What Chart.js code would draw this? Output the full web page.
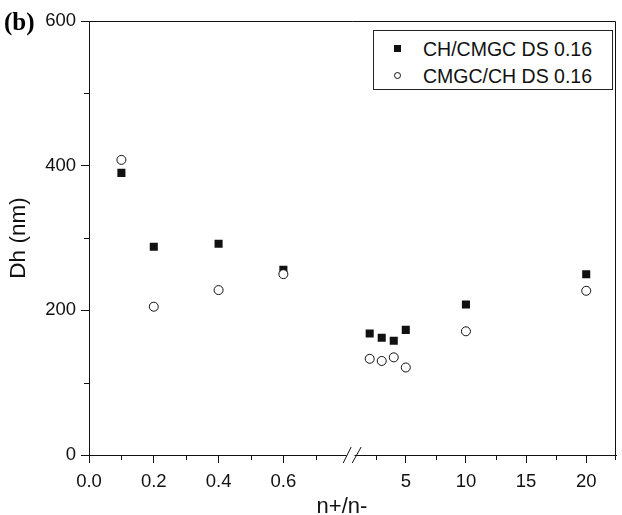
<!DOCTYPE html>
<html>
<head>
<meta charset="utf-8">
<script src="https://cdn.jsdelivr.net/npm/chart.js@4.4.1/dist/chart.umd.min.js"></script>
<style>
html,body{margin:0;padding:0;background:#fff;}
#wrap{position:relative;width:622px;height:515px;overflow:hidden;background:#fff;}
#c{position:absolute;left:0;top:0;}
#legend{position:absolute;left:373px;top:30px;width:240px;height:60px;box-sizing:border-box;border:1px solid #222;background:#fff;font-family:"Liberation Sans",Arial,sans-serif;font-size:19.5px;color:#111;}
#legend .row{position:absolute;left:0;height:24px;line-height:24px;white-space:nowrap;}
#legend .txt{position:absolute;left:49px;top:0;}
#legend .sq{position:absolute;left:20px;top:8px;width:7px;height:7px;background:#111;}
#legend .ci{position:absolute;left:20px;top:8px;width:7px;height:7px;box-sizing:border-box;border:1px solid #111;border-radius:50%;background:#fff;}
</style>
</head>
<body>
<div id="wrap">
<canvas id="c" width="622" height="515"></canvas>
<div id="legend"></div>
</div>
<script>
// ---- data ----
const xLeft = [0.1, 0.2, 0.4, 0.6];
const xRight = [2, 3, 4, 5, 10, 20];
const chCmgcLeft = [390, 288, 292, 256];
const chCmgcRight = [168, 162, 158, 173, 208, 250];
const cmgcChLeft = [408, 205, 228, 250];
const cmgcChRight = [133, 130, 135, 121, 171, 227];

const seriesNames = ['CH/CMGC DS 0.16', 'CMGC/CH DS 0.16'];

// ---- ticks ----
const yTicks = [0, 100, 200, 300, 400, 500, 600];
const yLabeled = [0, 200, 400, 600];
const xLeftTicks = [0, 0.1, 0.2, 0.3, 0.4, 0.5, 0.6, 0.7];
const xLeftLabeled = [0, 0.2, 0.4, 0.6];
const xRightTicks = [2.5, 5, 7.5, 10, 12.5, 15, 17.5, 20, 22.5];
const xRightLabeled = [5, 10, 15, 20];

const xTitle = 'n+/n-';
const yTitle = 'Dh (nm)';
const panelLabel = '(b)';

const has = (arr, v) => arr.some(a => Math.abs(a - v) < 1e-9);
const pts = (xs, ys) => xs.map((x, i) => ({x: x, y: ys[i]}));

const INK = '#111';
const FONT = '"Liberation Sans", Arial, sans-serif';

// legend (HTML, real text)
(function(){
  const lg = document.getElementById('legend');
  const rows = [{cls:'sq', name: seriesNames[0], top: 6}, {cls:'ci', name: seriesNames[1], top: 33}];
  rows.forEach(r => {
    const d = document.createElement('div');
    d.className = 'row';
    d.style.top = r.top + 'px';
    d.style.width = '236px';
    const m = document.createElement('span'); m.className = r.cls;
    const t = document.createElement('span'); t.className = 'txt'; t.textContent = r.name;
    d.appendChild(m); d.appendChild(t);
    lg.appendChild(d);
  });
})();

const circleStyle = {pointStyle:'circle', pointRadius:4.5, pointBackgroundColor:'#fff', pointBorderColor:INK, pointBorderWidth:1, showLine:false};
const squareStyle = {pointStyle:'rect', pointRadius:5.7, pointBackgroundColor:INK, pointBorderColor:INK, pointBorderWidth:0, showLine:false};

const decorPlugin = {
  id: 'decor',
  afterDraw(chart) {
    const ctx = chart.ctx;
    const ca = chart.chartArea;
    ctx.save();
    ctx.strokeStyle = INK;
    ctx.lineWidth = 1;
    // frame: top and right lines
    const top = Math.round(ca.top) + 0.5, right = Math.round(ca.right) - 0.5;
    ctx.beginPath();
    ctx.moveTo(ca.left, top);
    ctx.lineTo(right, top);
    ctx.lineTo(right, ca.bottom);
    ctx.stroke();
    // minor ticks
    const y = chart.scales.y;
    yTicks.filter(v => !has(yLabeled, v)).forEach(v => {
      const p = Math.round(y.getPixelForValue(v)) + 0.5;
      ctx.beginPath(); ctx.moveTo(ca.left - 5, p); ctx.lineTo(ca.left, p); ctx.stroke();
    });
    const xl = chart.scales.xL, xr = chart.scales.xR;
    xLeftTicks.filter(v => !has(xLeftLabeled, v)).forEach(v => {
      const p = Math.round(xl.getPixelForValue(v)) + 0.5;
      ctx.beginPath(); ctx.moveTo(p, ca.bottom); ctx.lineTo(p, ca.bottom + 5); ctx.stroke();
    });
    xRightTicks.filter(v => !has(xRightLabeled, v)).forEach(v => {
      const p = Math.min(Math.round(xr.getPixelForValue(v)) + 0.5, right);
      ctx.beginPath(); ctx.moveTo(p, ca.bottom); ctx.lineTo(p, ca.bottom + 5); ctx.stroke();
    });
    // axis break marks
    const bx = xl.right;
    const by = ca.bottom;
    ctx.fillStyle = '#fff';
    ctx.beginPath();
    ctx.moveTo(bx - 3, by + 3); ctx.lineTo(bx + 5, by + 3); ctx.lineTo(bx + 8, by - 3); ctx.lineTo(bx, by - 3);
    ctx.closePath(); ctx.fill();
    ctx.beginPath();
    ctx.moveTo(bx - 5, by + 8); ctx.lineTo(bx + 3, by - 8);
    ctx.moveTo(bx + 4, by + 8); ctx.lineTo(bx + 13, by - 8);
    ctx.stroke();
    // titles
    ctx.fillStyle = INK;
    ctx.font = '22px ' + FONT;
    ctx.textAlign = 'center';
    ctx.textBaseline = 'alphabetic';
    ctx.fillText(xTitle, 342, 513);
    ctx.font = 'bold 25px "Liberation Serif", "Times New Roman", serif';
    ctx.textAlign = 'left';
    ctx.fillStyle = '#000';
    ctx.fillText(panelLabel, 4, 30);
    ctx.restore();
  }
};

const tickFont = {family: FONT, size: 18.5};
const fitX = s => { s.height = 60; s.paddingLeft = 0; s.paddingRight = 0; };

new Chart(document.getElementById('c'), {
  type: 'scatter',
  data: {
    datasets: [
      Object.assign({label: seriesNames[1], data: pts(xLeft, cmgcChLeft), xAxisID: 'xL', yAxisID: 'y'}, circleStyle),
      Object.assign({label: seriesNames[1], data: pts(xRight, cmgcChRight), xAxisID: 'xR', yAxisID: 'y'}, circleStyle),
      Object.assign({label: seriesNames[0], data: pts(xLeft, chCmgcLeft), xAxisID: 'xL', yAxisID: 'y'}, squareStyle),
      Object.assign({label: seriesNames[0], data: pts(xRight, chCmgcRight), xAxisID: 'xR', yAxisID: 'y'}, squareStyle)
    ]
  },
  options: {
    responsive: false,
    animation: false,
    events: [],
    layout: {padding: {left: 0, top: 21, right: 4, bottom: 0}},
    plugins: {legend: {display: false}, tooltip: {enabled: false}, title: {display: false}},
    scales: {
      xL: {
        type: 'linear', axis: 'x', position: 'bottom', stack: 'xs', stackWeight: 260,
        min: 0, max: 0.8,
        afterBuildTicks: s => { s.ticks = xLeftTicks.map(v => ({value: v})); },
        afterFit: fitX,
        ticks: {color: INK, font: tickFont, padding: 8, maxRotation: 0, autoSkip: false,
          callback: v => has(xLeftLabeled, v) ? v.toFixed(1) : ''},
        grid: {drawOnChartArea: false, tickLength: 8, tickWidth: 1,
          tickColor: c => (c.tick && has(xLeftLabeled, c.tick.value)) ? INK : 'rgba(0,0,0,0)'},
        border: {display: true, color: INK, width: 1}
      },
      xR: {
        type: 'linear', axis: 'x', position: 'bottom', stack: 'xs', stackWeight: 269,
        min: 0.21, max: 22.5,
        afterBuildTicks: s => { s.ticks = xRightTicks.map(v => ({value: v})); },
        afterFit: fitX,
        ticks: {color: INK, font: tickFont, padding: 8, maxRotation: 0, autoSkip: false,
          callback: v => has(xRightLabeled, v) ? String(v) : ''},
        grid: {drawOnChartArea: false, tickLength: 8, tickWidth: 1,
          tickColor: c => (c.tick && has(xRightLabeled, c.tick.value)) ? INK : 'rgba(0,0,0,0)'},
        border: {display: true, color: INK, width: 1}
      },
      y: {
        type: 'linear', position: 'left', min: 0, max: 600,
        afterBuildTicks: s => { s.ticks = yTicks.map(v => ({value: v})); },
        afterFit: s => { s.width = 89; },
        ticks: {color: INK, font: tickFont, padding: 5, autoSkip: false,
          callback: v => has(yLabeled, v) ? String(v) : ''},
        grid: {drawOnChartArea: false, tickLength: 8, tickWidth: 1,
          tickColor: c => (c.tick && has(yLabeled, c.tick.value)) ? INK : 'rgba(0,0,0,0)'},
        border: {display: true, color: INK, width: 1},
        title: {display: true, text: yTitle, color: INK, font: {family: FONT, size: 22.5}, padding: {top: 5, bottom: 0}}
      }
    }
  },
  plugins: [decorPlugin]
});
</script>
</body>
</html>
